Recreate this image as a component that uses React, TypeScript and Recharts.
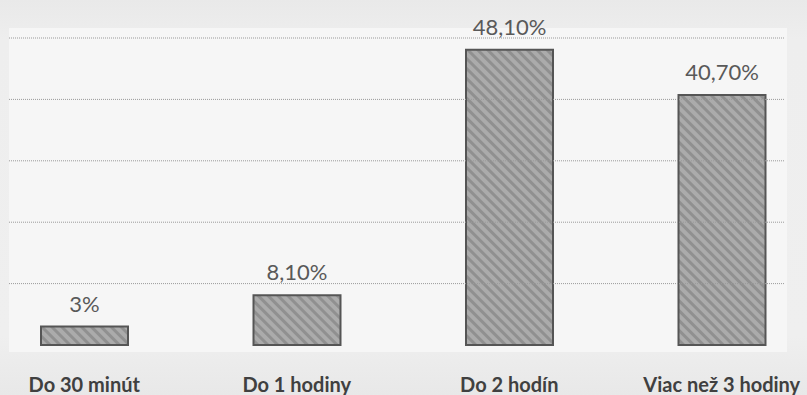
import React from 'react';
import { BarChart, Bar, XAxis, YAxis, ReferenceLine, LabelList } from 'recharts';

const categories = ['Do 30 minút', 'Do 1 hodiny', 'Do 2 hodín', 'Viac než 3 hodiny'];
const values = [3, 8.1, 48.1, 40.7];
const valueLabels = ['3%', '8,10%', '48,10%', '40,70%'];
const yTicks = [10, 20, 30, 40, 50];

const data = categories.map((c, i) => ({ name: c, value: values[i], label: valueLabels[i] }));

const CatTick = (props: any) => {
  const { x, y, payload } = props;
  return (
    <text x={x} y={y} dy={39} textAnchor="middle" fontFamily="Lato" fontWeight={700} fontSize={20} fill="#404040">
      {payload.value}
    </text>
  );
};

export default function App() {
  return (
    <div style={{ position: 'absolute', left: 0, top: 0, width: 807, height: 395, background: 'linear-gradient(#e9e9e9, #eeeeee 10%, #efefef 85%, #e8e8e8)' }}>
      <div style={{ position: 'absolute', left: 9, top: 28, width: 778, height: 324, background: '#f6f6f6' }} />
      <div style={{ position: 'absolute', left: 0, top: 0 }}>
        <BarChart width={807} height={395} data={data} margin={{ top: 38, right: 22, bottom: 10, left: 9 }}>
          <defs>
            <pattern id="hatch" patternUnits="userSpaceOnUse" width="7" height="7" patternTransform="rotate(-45)">
              <rect x="0" y="0" width="7" height="7" fill="#ababab" />
              <rect x="0" y="0" width="3" height="7" fill="#909090" />
            </pattern>
          </defs>
          {yTicks.map((t) => (
            <ReferenceLine key={t} y={t} stroke="#9a9a9a" strokeDasharray="1 1" />
          ))}
          <XAxis
            dataKey="name"
            axisLine={false}
            tickLine={false}
            height={40}
            padding={{ left: -31, right: -43 }}
            tick={<CatTick />}
            interval={0}
          />
          <YAxis hide domain={[0, 50]} ticks={yTicks} />
          <Bar dataKey="value" barSize={87} fill="url(#hatch)" stroke="#555555" strokeWidth={2} isAnimationActive={false}>
            <LabelList dataKey="label" position="top" offset={15} fontFamily="Lato" fontSize={22} fill="#595959" />
          </Bar>
        </BarChart>
      </div>
    </div>
  );
}
